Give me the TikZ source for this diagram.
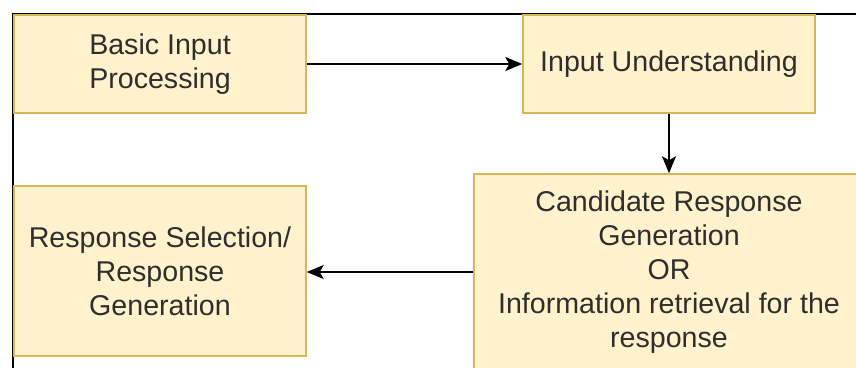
\documentclass[tikz,border=0pt]{standalone}
\usepackage{fontspec}
\setmainfont{Liberation Sans}
\usetikzlibrary{arrows.meta}
\definecolor{boxfill}{HTML}{FFF2CC}
\definecolor{boxline}{HTML}{D6B656}
\definecolor{txt}{HTML}{2E2E2E}
\begin{document}
\begin{tikzpicture}[x=1pt,y=-1pt,
  stage/.style={draw=boxline, fill=boxfill, line width=1.5pt, align=center,
    text=txt, inner sep=0pt, font=\fontsize{28.6}{34}\selectfont},
  flow/.style={draw=black, line width=1.6pt, -{Stealth[length=17pt,width=14pt,inset=4pt]}}]
  \useasboundingbox (0,0) rectangle (856,367);
  \clip (0,0) rectangle (856,367);
  % outer frame, open to the right and bottom
  \draw[line width=2pt, black] (13,400) -- (13,14) -- (900,14);
  % process stages
  \node[stage, minimum width=292pt, minimum height=98pt] (basic) at (160,64)
    {Basic Input\\Processing};
  \node[stage, minimum width=292pt, minimum height=98pt] (understand) at (669,64)
    {Input Understanding};
  \node[stage, minimum width=390pt, minimum height=196pt] (candidate) at (669,272)
    {Candidate Response\\Generation\\OR\\Information retrieval for the\\response};
  \node[stage, minimum width=292pt, minimum height=170pt] (select) at (160,271)
    {Response Selection/\\Response\\Generation};
  % connectors
  \draw[flow] (basic.east) -- (understand.west);
  \draw[flow] (understand.south) -- (candidate.north);
  \draw[flow] (candidate.west) -- (candidate.west -| select.east);
\end{tikzpicture}
\end{document}
